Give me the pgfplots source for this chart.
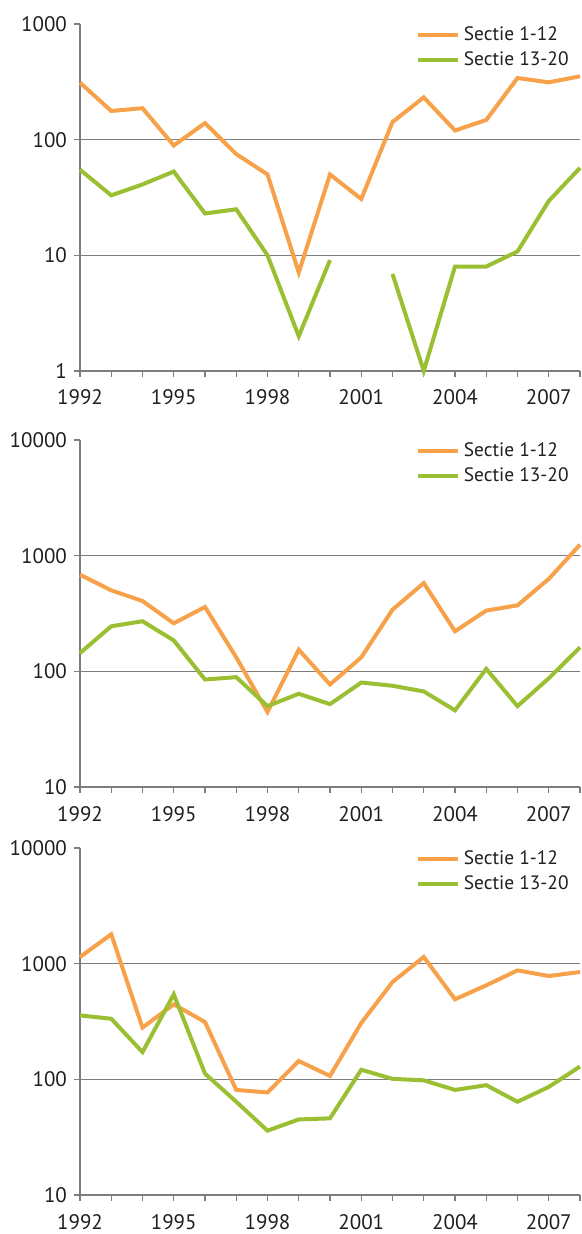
\documentclass[border=0pt]{standalone}
\usepackage{fontspec}
\setmainfont{PT Sans}
\usepackage{pgfplots}
\pgfplotsset{compat=1.18}
\definecolor{cor}{RGB}{247,162,74}
\definecolor{cgr}{RGB}{155,191,50}
\definecolor{cax}{RGB}{125,125,125}
\pgfplotsset{
  panel/.style={
    scale only axis, width=250pt, height=173.5pt,
    xmin=1992, xmax=2008,
    axis x line=bottom, axis y line=left,
    axis line style={-, cax, line width=0.7pt},
    xtick={1992,1995,...,2007}, minor xtick={1992,...,2008},
    yminorticks=false,
    tick align=outside, major tick length=3pt, minor tick length=3pt,
    tick style={cax, line width=0.7pt},
    ymajorgrids, grid style={cax, line width=0.7pt},
    extra y tick style={grid=none},
    tick label style={font=\fontsize{10.5}{12}\selectfont, text=black!88},
    xticklabel style={yshift=-3pt},
    legend style={draw=none, fill=none, at={(1,1)}, anchor=north east,
      xshift=-0.5pt, yshift=3pt,
      font=\fontsize{9.7}{12}\selectfont, text=black!88, row sep=0pt},
    legend cell align=left,
    legend image code/.code={\draw[##1] (0pt,0pt) -- (20pt,0pt);},
    clip=false, unbounded coords=jump,
    every axis plot/.append style={line width=2pt},
  }
}
\begin{document}
\begin{tikzpicture}
\path[use as bounding box] (0pt,0pt) rectangle (291pt,617pt);
% Panel 1
\begin{axis}[ymode=log, panel, at={(40pt,431.5pt)}, anchor=south west,
  /pgf/number format/assume math mode=true,
  /pgf/number format/1000 sep={},
  ymin=1, ymax=1000, ytick={10,100}, yticklabels={10,100},
  extra y ticks={1,1000}, extra y tick labels={1,1000}]
\addplot[cor] coordinates {(1992,311) (1993,177) (1994,187) (1995,89) (1996,139) (1997,75) (1998,50) (1999,7.1) (2000,50) (2001,30.7) (2002,142) (2003,232) (2004,120) (2005,148) (2006,341) (2007,313) (2008,353)};
\addlegendentry{Sectie 1-12}
\addplot[cgr] coordinates {(1992,55) (1993,33) (1994,41) (1995,53) (1996,23) (1997,25) (1998,10) (1999,2) (2000,9.1) (2001,nan) (2002,6.9) (2003,1) (2004,8) (2005,8) (2006,10.8) (2007,29.5) (2008,57)};
\addlegendentry{Sectie 13-20}
\end{axis}
% Panel 2
\begin{axis}[ymode=log, panel, at={(40pt,223.5pt)}, anchor=south west,
  /pgf/number format/assume math mode=true,
  /pgf/number format/1000 sep={},
  ymin=10, ymax=10000, ytick={100,1000}, yticklabels={100,1000},
  extra y ticks={10,10000}, extra y tick labels={10,10000}]
\addplot[cor] coordinates {(1992,685) (1993,501) (1994,406) (1995,260) (1996,360) (1997,132) (1998,44.5) (1999,154) (2000,77) (2001,132) (2002,341) (2003,580) (2004,222) (2005,335) (2006,372) (2007,629) (2008,1245)};
\addlegendentry{Sectie 1-12}
\addplot[cgr] coordinates {(1992,144) (1993,245) (1994,271) (1995,185) (1996,85) (1997,89) (1998,50) (1999,64) (2000,52) (2001,80) (2002,75) (2003,67) (2004,46) (2005,105) (2006,50) (2007,87) (2008,161)};
\addlegendentry{Sectie 13-20}
\end{axis}
% Panel 3
\begin{axis}[ymode=log, panel, at={(40pt,19.5pt)}, anchor=south west,
  /pgf/number format/assume math mode=true,
  /pgf/number format/1000 sep={},
  ymin=10, ymax=10000, ytick={100,1000}, yticklabels={100,1000},
  extra y ticks={10,10000}, extra y tick labels={10,10000}]
\addplot[cor] coordinates {(1992,1142) (1993,1794) (1994,280) (1995,445) (1996,313) (1997,81) (1998,77) (1999,144) (2000,107) (2001,307) (2002,694) (2003,1142) (2004,492) (2005,650) (2006,875) (2007,782) (2008,847)};
\addlegendentry{Sectie 1-12}
\addplot[cgr] coordinates {(1992,357) (1993,334) (1994,172) (1995,543) (1996,112) (1997,64) (1998,36) (1999,45) (2000,46) (2001,121) (2002,101) (2003,98) (2004,81) (2005,89) (2006,64) (2007,86) (2008,129)};
\addlegendentry{Sectie 13-20}
\end{axis}
\end{tikzpicture}
\end{document}
